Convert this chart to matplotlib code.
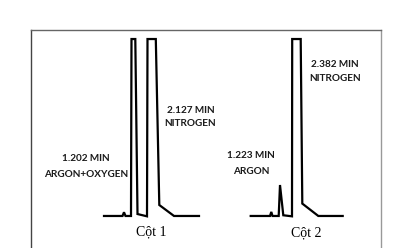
"""Gas chromatogram sketch: two columns (Cot 1 / Cot 2), argon / oxygen / nitrogen peaks."""
import matplotlib
matplotlib.use("Agg")
import matplotlib.pyplot as plt

# column 1 trace: time (arbitrary units) and detector signal (% of full scale)
T1 = [104, 122.5, 124, 125.5, 131, 131.5, 135.3, 137.5, 147, 147.5, 155.8, 159.3, 174, 199]
S1 = [0, 0, 2.1, 0, 0, 100, 100, 1.1, -0.2, 100, 100, 6.2, 0, 0]

# column 2 trace
T2 = [250.7, 270, 271.3, 272.5, 278.7, 280, 283.3, 292, 292.2, 300.7, 302.3, 318.3, 342.7]
S2 = [0, 0, 2.3, 0, 0, 17.5, 0.4, -0.2, 100, 100, 7.0, 0, 0]

# peak annotations (two lines each)
LAB_TXT = [("1.202 MIN", "ARGON+OXYGEN"), ("2.127 MIN", "NITROGEN"),
           ("1.223 MIN", "ARGON"), ("2.382 MIN", "NITROGEN")]
LAB_X = [86, 190.5, 251, 335.3]
LAB_Y = [(32.6, 23.6), (59.5, 52.0), (33.9, 24.9), (85.5, 77.6)]

COLS = ["Cột 1", "Cột 2"]
COL_X = [151, 306.3]
COL_Y = [-9.2, -9.8]

fig = plt.figure(figsize=(3.95, 2.48), dpi=100)
ax = fig.add_axes([31 / 395, 0, (380.7 - 31) / 395, (248 - 30) / 248])
ax.set_xlim(31, 380.7)
ax.set_ylim(-18.1, 105.1)

ax.plot(T1, S1, color="black", lw=1.6, solid_joinstyle="miter")
ax.plot(T2, S2, color="black", lw=1.6, solid_joinstyle="miter")

for (l1, l2), x, (y1, y2) in zip(LAB_TXT, LAB_X, LAB_Y):
    for txt, y in ((l1, y1), (l2, y2)):
        ax.text(x, y, txt, ha="center", va="center", fontsize=7.2, family="Lato",
                fontweight="bold", color="#1a1a1a")

for name, x, y in zip(COLS, COL_X, COL_Y):
    ax.text(x, y, name, ha="center", va="center", fontsize=10, family="Liberation Serif")

ax.set_xticks([]); ax.set_yticks([])
ax.spines["bottom"].set_visible(False)
ax.spines["left"].set_color("#444444")
ax.spines["top"].set_color("#666666")
ax.spines["right"].set_color("#999999")
for s in ("left", "top", "right"):
    ax.spines[s].set_linewidth(1.0)

fig.savefig("out.png", dpi=100)
